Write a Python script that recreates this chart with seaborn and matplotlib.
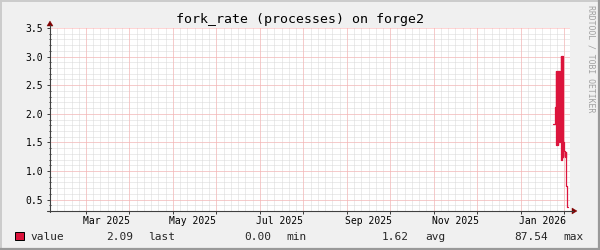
import numpy as np
import pandas as pd
import matplotlib
matplotlib.use("Agg")
import matplotlib.pyplot as plt
from matplotlib.lines import Line2D
from matplotlib.patches import Polygon, Rectangle
import seaborn as sns

# ---------------- data ----------------
BASE = pd.Timestamp("2025-01-01")
# day offsets from BASE and the sampled values (step series)
days = [372.7, 374.3,
        374.8, 375.05, 375.3, 375.55, 375.8, 376.05, 376.3, 376.55, 376.8, 377.05, 377.3, 377.45,
        377.6,
        378.3, 378.55, 378.8, 379.05, 379.3, 379.5,
        379.7, 380.1,
        380.6, 380.85, 381.1, 381.35, 381.6, 381.8,
        382.0, 382.5, 383.3]
values = [1.82, 2.12,
          2.74, 1.45, 2.74, 1.46, 2.74, 1.45, 2.74, 1.50, 2.74, 1.52, 2.74, 1.51,
          1.51,
          3.01, 1.20, 3.01, 1.22, 3.01, 1.25,
          1.50, 1.42,
          1.35, 1.26, 1.34, 1.25, 1.33, 1.26,
          0.74, 0.37, 0.37]

tick_dates = ["2025-03-01", "2025-05-01", "2025-07-01", "2025-09-01", "2025-11-01", "2026-01-01"]
tick_labels = ["Mar 2025", "May 2025", "Jul 2025", "Sep 2025", "Nov 2025", "Jan 2026"]
y_ticks = [0.5, 1.0, 1.5, 2.0, 2.5, 3.0, 3.5]
y_tick_labels = ["0.5", "1.0", "1.5", "2.0", "2.5", "3.0", "3.5"]
title = "fork_rate (processes) on forge2"
legend_name = "value"
legend_values = ["2.09", "0.00", "1.62", "87.54"]
legend_stats = ["last", "min", "avg", "max"]
watermark = "RRDTOOL / TOBI OETIKER"

# ---------------- style ----------------
sns.set_style("white")
plt.rcParams['font.family'] = ['DejaVu Sans Mono', 'DejaVu Sans']

LINE_COLOR = "#DC143C"
BACK = "#F0F0F0"
AXIS = "#404040"
ARROW = "#7F0000"
GRID = "#D8D8D8"
MGRID = "#FFADAD"

W, H = 600, 250
fig = plt.figure(figsize=(6, 2.5), dpi=100, facecolor=BACK)


def fx(px):
    return px / W


def fy(py):
    return 1 - py / H


ax = fig.add_axes([fx(50), fy(211), fx(570) - fx(50), fy(28) - fy(211)])
ax.set_facecolor("white")
for s in ax.spines.values():
    s.set_visible(False)

x_start = 19.7
x_end = 384.6
x0 = BASE + pd.Timedelta(days=x_start)
x1 = BASE + pd.Timedelta(days=x_end)

# grid (positions are layout, not data)
major_step = 30.5
major_days = np.arange(44.96, x_end, major_step)
minor_days = np.arange(44.96 - major_step, x_end, major_step / 6)
dash = (0, (1, 1))
for d in minor_days:
    if d > x_start:
        ax.axvline(BASE + pd.Timedelta(days=float(d)), color=GRID, lw=0.72, ls=dash, zorder=0)
for v in np.arange(0.4, 3.45, 0.1):
    ax.axhline(v, color=GRID, lw=0.72, ls=dash, zorder=0)
for d in major_days:
    ax.axvline(BASE + pd.Timedelta(days=float(d)), color=MGRID, lw=0.72, ls=dash, zorder=1)
for v in y_ticks:
    ax.axhline(v, color=MGRID, lw=0.72, ls=dash, zorder=1, clip_on=False)

df = pd.DataFrame({"time": BASE + pd.to_timedelta(days, unit="D"), "value": values})
sns.lineplot(data=df, x="time", y="value", ax=ax, color=LINE_COLOR, linewidth=0.9,
             drawstyle="steps-post", estimator=None, sort=False, zorder=3)

ax.set_xlim(x0, x1)
ax.set_ylim(0.3, 3.5)
ax.set_xlabel("")
ax.set_ylabel("")

ax.set_xticks(pd.to_datetime(tick_dates))
ax.set_xticklabels(tick_labels)
ax.set_xticks([BASE + pd.Timedelta(days=float(d)) for d in major_days], minor=True)
ax.set_yticks(y_ticks)
ax.set_yticklabels(y_tick_labels)
ax.set_yticks(np.arange(0.4, 3.45, 0.1), minor=True)

ax.tick_params(axis="x", which="major", bottom=True, length=0, pad=3.5, labelsize=7,
               labelcolor="black")
ax.tick_params(axis="x", which="minor", bottom=True, length=2, width=0.72, color=AXIS,
               direction="out")
ax.tick_params(axis="y", which="major", left=True, length=2, width=0.72, pad=3,
               direction="out", color=AXIS, labelsize=7, labelcolor="black")
ax.tick_params(axis="y", which="minor", left=True, length=1.2, width=0.72,
               direction="inout", color=AXIS)

# axes lines with arrows
fig.add_artist(Line2D([fx(50), fx(50)], [fy(212), fy(25)], color=AXIS, lw=0.8))
fig.add_artist(Line2D([fx(47), fx(573)], [fy(211), fy(211)], color=AXIS, lw=0.8))
fig.add_artist(Polygon([(fx(47), fy(26)), (fx(53), fy(26)), (fx(50), fy(21))],
                       closed=True, facecolor=ARROW, edgecolor=ARROW, lw=0.3,
                       transform=fig.transFigure))
fig.add_artist(Polygon([(fx(572), fy(208)), (fx(572), fy(214)), (fx(577), fy(211))],
                       closed=True, facecolor=ARROW, edgecolor=ARROW, lw=0.3,
                       transform=fig.transFigure))

# title and watermark
fig.text(fx(300), fy(19), title, ha="center", va="center", fontsize=9.5, color="black")
fig.text(fx(591), fy(59), watermark, rotation=270, ha="center", va="center",
         fontsize=5.9, color="#A0A0A0")

# legend
fig.add_artist(Rectangle((fx(15), fy(240)), fx(9), 8 / H, facecolor=LINE_COLOR,
                         edgecolor="black", lw=0.72, transform=fig.transFigure))
LEG_Y = fy(240)
fig.text(fx(30), LEG_Y, legend_name, ha="left", va="baseline", fontsize=8)
val_right = [133, 271, 409, 548]
stat_left = [148, 286, 425, 563]
for v, s, vr, sl in zip(legend_values, legend_stats, val_right, stat_left):
    fig.text(fx(vr), LEG_Y, v, ha="right", va="baseline", fontsize=8)
    fig.text(fx(sl), LEG_Y, s, ha="left", va="baseline", fontsize=8)

# 3D frame
fig.add_artist(Line2D([0, 1], [fy(0.5), fy(0.5)], color="#CBCBCB", lw=1.4))
fig.add_artist(Line2D([fx(0.5), fx(0.5)], [0, 1], color="#CBCBCB", lw=1.4))
fig.add_artist(Line2D([0, 1], [fy(249), fy(249)], color="#999999", lw=1.6))
fig.add_artist(Line2D([fx(599), fx(599)], [0, 1], color="#999999", lw=1.6))

fig.savefig("out.png", dpi=100, facecolor=BACK)
